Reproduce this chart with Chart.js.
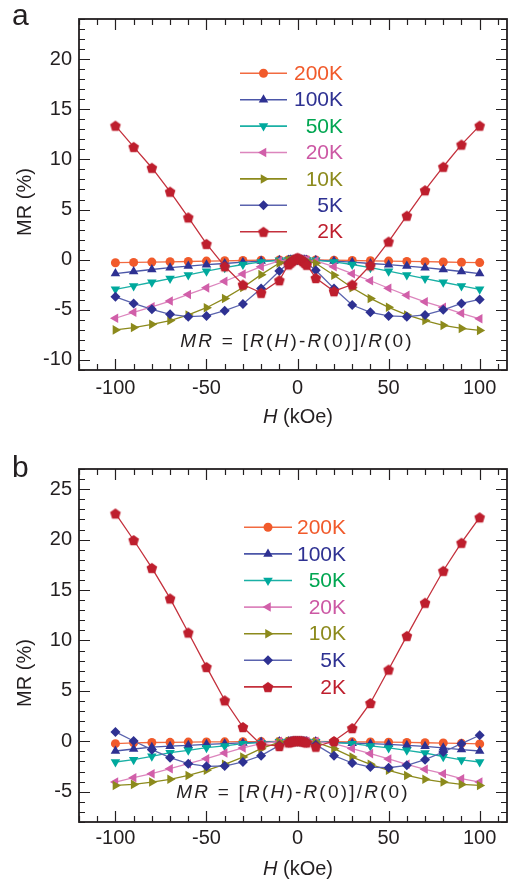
<!DOCTYPE html>
<html>
<head>
<meta charset="utf-8">
<script src="https://cdn.jsdelivr.net/npm/chart.js@4.4.1/dist/chart.umd.min.js"></script>
<style>
  body { margin: 0; background: #fff; }
  .panel { position: absolute; left: 0; }
</style>
</head>
<body>
<div class="panel" style="top:0"><canvas id="chartA" width="515" height="440"></canvas></div>
<div class="panel" style="top:440px"><canvas id="chartB" width="515" height="441"></canvas></div>
<script>
// field values (kOe), shared by every curve
const fieldH = [-100, -90, -80, -70, -60, -50, -40, -30, -20, -10,
  -5, -4, -3, -2, -1, 0, 1, 2, 3, 4, 5,
  10, 20, 30, 40, 50, 60, 70, 80, 90, 100];

const tempLabels = ['200K', '100K', '50K', '20K', '10K', '5K', '2K'];

// labelled tick values
const xTickVals = [-100, -50, 0, 50, 100];
const yTickValsA = [-10, -5, 0, 5, 10, 15, 20];
const yTickValsB = [-5, 0, 5, 10, 15, 20, 25];

// panel a: MR (%)
const mrA200 = [-0.30, -0.27, -0.24, -0.21, -0.18, -0.14, -0.11, -0.08, -0.05, -0.02,
  -0.01, -0.01, 0, 0, 0, 0, 0, 0, 0, -0.01, -0.01,
  -0.02, -0.05, -0.08, -0.11, -0.14, -0.17, -0.20, -0.23, -0.26, -0.29];
const mrA100 = [-1.38, -1.18, -0.98, -0.80, -0.64, -0.50, -0.38, -0.25, -0.14, -0.05,
  -0.02, -0.01, 0, 0, 0, 0, 0, 0, 0, -0.01, -0.02,
  -0.05, -0.14, -0.25, -0.38, -0.50, -0.64, -0.80, -0.98, -1.18, -1.38];
const mrA50 = [-2.95, -2.62, -2.25, -1.88, -1.52, -1.15, -0.80, -0.48, -0.22, -0.06,
  -0.03, -0.02, -0.01, 0, 0, 0, 0, 0, -0.01, -0.02, -0.03,
  -0.06, -0.22, -0.48, -0.80, -1.15, -1.52, -1.88, -2.25, -2.62, -2.95];
const mrA20 = [-5.84, -5.25, -4.70, -4.13, -3.47, -2.81, -2.15, -1.42, -0.70, -0.12,
  -0.06, -0.04, -0.02, -0.01, 0, 0, 0, -0.01, -0.02, -0.04, -0.06,
  -0.12, -0.70, -1.40, -2.10, -2.85, -3.55, -4.20, -4.75, -5.35, -5.90];
const mrA10 = [-7.00, -6.77, -6.45, -6.07, -5.51, -4.79, -3.86, -2.77, -1.49, -0.33,
  -0.12, -0.08, -0.05, -0.02, 0, 0, 0, -0.02, -0.05, -0.08, -0.12,
  -0.36, -1.55, -2.80, -3.86, -4.75, -5.51, -6.07, -6.55, -6.85, -7.05];
const mrA5 = [-3.70, -4.36, -4.95, -5.45, -5.68, -5.61, -5.08, -4.42, -2.87, -1.12,
  -0.35, -0.22, -0.12, -0.05, -0.01, 0, -0.01, -0.05, -0.12, -0.22, -0.35,
  -1.06, -2.87, -4.52, -5.25, -5.61, -5.68, -5.51, -5.00, -4.36, -3.96];
const mrA2 = [13.37, 11.25, 9.17, 6.79, 4.22, 1.58, -0.66, -2.48, -3.30, -2.05,
  -0.47, -0.30, -0.15, 0.00, 0.12, 0.20, 0.12, 0.00, -0.15, -0.30, -0.50,
  -1.82, -3.14, -2.48, -0.56, 1.81, 4.39, 6.93, 9.27, 11.48, 13.37];

// panel b: MR (%)
const mrB200 = [-0.23, -0.15, -0.12, -0.10, -0.08, -0.06, -0.05, -0.04, -0.03, -0.01,
  0, 0, 0, 0, 0, 0, 0, 0, 0, 0, 0,
  -0.01, -0.03, -0.05, -0.07, -0.09, -0.11, -0.14, -0.17, -0.20, -0.26];
const mrB100 = [-0.96, -0.76, -0.58, -0.48, -0.40, -0.30, -0.23, -0.16, -0.08, -0.03,
  -0.01, -0.01, 0, 0, 0, 0, 0, 0, 0, -0.01, -0.01,
  -0.03, -0.10, -0.18, -0.23, -0.30, -0.40, -0.50, -0.65, -0.82, -0.96];
const mrB50 = [-2.05, -1.82, -1.49, -1.13, -0.89, -0.63, -0.46, -0.23, -0.13, -0.04,
  -0.02, -0.01, -0.01, 0, 0, 0, 0, 0, -0.01, -0.01, -0.02,
  -0.04, -0.13, -0.23, -0.46, -0.66, -0.89, -1.16, -1.52, -1.85, -2.05];
const mrB20 = [-4.04, -3.61, -3.21, -2.71, -2.22, -1.72, -1.16, -0.66, -0.23, 0.00,
  0, 0, 0, 0, 0, 0, 0, 0, 0, 0, 0,
  0.00, -0.23, -0.72, -1.22, -1.75, -2.28, -2.78, -3.21, -3.71, -4.04];
const mrB10 = [-4.37, -4.27, -4.04, -3.77, -3.38, -2.88, -2.28, -1.56, -0.73, -0.07,
  -0.03, -0.02, -0.01, 0, 0, 0, 0, 0, -0.01, -0.02, -0.03,
  -0.07, -0.73, -1.56, -2.28, -2.88, -3.38, -3.77, -4.04, -4.27, -4.37];
const mrB5 = [0.93, 0.03, -0.83, -1.62, -2.22, -2.48, -2.45, -2.05, -1.42, -0.40,
  -0.12, -0.08, -0.04, -0.02, 0, 0, 0, -0.02, -0.04, -0.08, -0.12,
  -0.33, -1.42, -2.15, -2.55, -2.62, -2.38, -1.82, -1.06, -0.23, 0.60];
const mrB2 = [22.60, 19.96, 17.20, 14.17, 10.79, 7.38, 4.07, 1.42, -0.33, -0.46,
  -0.10, -0.05, 0, 0.05, 0.05, 0.05, 0.05, 0.05, 0, -0.05, -0.10,
  -0.53, 0.03, 1.32, 3.80, 7.12, 10.46, 13.74, 16.91, 19.69, 22.21];

const ink = '#231f20';
const fontFamily = '"Liberation Sans", Arial, sans-serif';

// small filled pentagon used as the 2K marker
function pentagon(color, r) {
  const c = document.createElement('canvas');
  const s = Math.ceil(r * 2 + 2);
  c.width = s; c.height = s;
  const g = c.getContext('2d');
  g.fillStyle = color;
  g.beginPath();
  for (let k = 0; k < 5; k++) {
    const a = -Math.PI / 2 + k * 2 * Math.PI / 5;
    g.lineTo(s / 2 + r * Math.cos(a), s / 2 + r * Math.sin(a) + 0.6);
  }
  g.closePath();
  g.fill();
  return c;
}

const looks = [
  { marker: '#f15a2b', line: '#f26a40', text: '#f15a2b', style: 'circle', rot: 0, r: 4.5 },
  { marker: '#2e3192', line: '#4b56a8', text: '#2e3192', style: 'triangle', rot: 0, r: 5.5 },
  { marker: '#00a99d', line: '#1ab0a5', text: '#00a651', style: 'triangle', rot: 180, r: 5.5 },
  { marker: '#d15fa9', line: '#dc85bd', text: '#cc58a4', style: 'triangle', rot: 270, r: 5.5 },
  { marker: '#8c8a1c', line: '#8c8a1c', text: '#8c8a1c', style: 'triangle', rot: 90, r: 5.5 },
  { marker: '#2e3192', line: '#5a63ae', text: '#2e3192', style: 'rectRot', rot: 0, r: 5 },
  { marker: '#be1e2d', line: '#c4303c', text: '#be1e2d', style: pentagon('#be1e2d', 5.6), rot: 0, r: 5.5 }
];

function buildDatasets(series) {
  return series.map((vals, i) => ({
    label: tempLabels[i],
    data: fieldH.map((h, j) => ({ x: h, y: vals[j] })),
    borderColor: looks[i].line,
    backgroundColor: looks[i].marker,
    pointBorderColor: looks[i].marker,
    pointBackgroundColor: looks[i].marker,
    pointStyle: looks[i].style,
    rotation: looks[i].rot,
    pointRadius: looks[i].r,
    pointBorderWidth: 0,
    borderWidth: 1.3,
    order: series.length - i
  }));
}

// draws italic/upright runs with a little letter spacing, centred on cx
function drawRuns(ctx, runs, cx, cy, size, spacing) {
  const fontFor = it => (it ? 'italic ' : '') + size + 'px ' + fontFamily;
  let total = 0;
  runs.forEach(([txt, it]) => {
    ctx.font = fontFor(it);
    for (const ch of txt) total += ctx.measureText(ch).width + spacing;
  });
  total -= spacing;
  let x = cx - total / 2;
  ctx.textAlign = 'left';
  ctx.textBaseline = 'middle';
  runs.forEach(([txt, it]) => {
    ctx.font = fontFor(it);
    for (const ch of txt) {
      ctx.fillText(ch, x, cy);
      x += ctx.measureText(ch).width + spacing;
    }
  });
}

const panelDecor = {
  id: 'panelDecor',
  afterDraw(chart, args, o) {
    const { ctx, chartArea: a, scales: { x, y } } = chart;
    ctx.save();
    ctx.strokeStyle = ink;
    ctx.fillStyle = ink;

    // frame with inward ticks on all four sides
    ctx.lineWidth = 1.8;
    ctx.strokeRect(a.left, a.top, a.right - a.left, a.bottom - a.top);
    ctx.lineWidth = 1.2;
    ctx.beginPath();
    for (let v = Math.ceil(x.min / 10) * 10; v <= x.max; v += 10) {
      const px = Math.round(x.getPixelForValue(v)) + 0.5;
      const len = v % 50 === 0 ? 11 : 6;
      ctx.moveTo(px, a.bottom); ctx.lineTo(px, a.bottom - len);
      ctx.moveTo(px, a.top); ctx.lineTo(px, a.top + len);
    }
    for (let v = Math.ceil(y.min); v <= y.max; v++) {
      const py = Math.round(y.getPixelForValue(v)) + 0.5;
      const len = v % 5 === 0 ? 11 : 6;
      ctx.moveTo(a.left, py); ctx.lineTo(a.left + len, py);
      ctx.moveTo(a.right, py); ctx.lineTo(a.right - len, py);
    }
    ctx.stroke();

    // panel letter
    ctx.font = '30px ' + fontFamily;
    ctx.textAlign = 'left';
    ctx.textBaseline = 'alphabetic';
    ctx.fillText(o.letter, 12, o.letterY);

    // y axis title
    ctx.save();
    ctx.translate(25, o.yTitleY);
    ctx.rotate(-Math.PI / 2);
    ctx.font = '20px ' + fontFamily;
    ctx.textAlign = 'center';
    ctx.textBaseline = 'middle';
    ctx.fillText('MR (%)', 0, 0);
    ctx.restore();

    // x axis title
    drawRuns(ctx, [['H', true], [' (kOe)', false]], 298, o.xTitleY, 20, 0);

    // formula inside the plot
    drawRuns(ctx, [['MR', true], [' = [', false], ['R', true], ['(', false], ['H', true],
      [')-', false], ['R', true], ['(0)]/', false], ['R', true], ['(0)', false]],
      o.formulaX, o.formulaY, 19, 2.2);

    // legend: line, marker and right-aligned label per temperature
    const L = o.legend;
    chart.data.datasets.forEach((ds, i) => {
      const ry = L.top + i * L.step;
      ctx.strokeStyle = ds.borderColor;
      ctx.lineWidth = 1.6;
      ctx.beginPath();
      ctx.moveTo(L.x0, ry); ctx.lineTo(L.x1, ry);
      ctx.stroke();
      ctx.fillStyle = ds.pointBackgroundColor;
      ctx.strokeStyle = ds.pointBackgroundColor;
      Chart.helpers.drawPoint(ctx, {
        pointStyle: ds.pointStyle, rotation: ds.rotation,
        radius: ds.pointRadius, borderWidth: 0
      }, (L.x0 + L.x1) / 2, ry);
      ctx.fillStyle = looks[i].text;
      ctx.font = '21px ' + fontFamily;
      ctx.textAlign = 'right';
      ctx.textBaseline = 'middle';
      ctx.fillText(ds.label, L.right, ry + 1);
    });
    ctx.restore();
  }
};

function makeChart(id, series, yMin, yMax, yTicks, padTop, xHeight, tickPad, decor) {
  const tickFont = { family: fontFamily, size: 20 };
  return new Chart(document.getElementById(id), {
    type: 'line',
    data: { datasets: buildDatasets(series) },
    options: {
      responsive: false,
      animation: false,
      layout: { padding: { top: padTop, right: 8, left: 0, bottom: 0 } },
      plugins: { legend: { display: false }, tooltip: { enabled: false }, panelDecor: decor },
      scales: {
        x: {
          type: 'linear', min: -120, max: 115,
          grid: { display: false, drawTicks: false },
          border: { display: false },
          ticks: { padding: tickPad, color: ink, font: tickFont, maxRotation: 0, autoSkip: false },
          afterBuildTicks: s => { s.ticks = xTickVals.map(v => ({ value: v })); },
          afterFit: s => { s.height = xHeight; }
        },
        y: {
          type: 'linear', min: yMin, max: yMax,
          grid: { display: false, drawTicks: false },
          border: { display: false },
          ticks: { padding: 7, color: ink, font: tickFont, autoSkip: false },
          afterBuildTicks: s => { s.ticks = yTicks.map(v => ({ value: v })); },
          afterFit: s => { s.width = 79; }
        }
      }
    },
    plugins: [panelDecor]
  });
}

makeChart('chartA', [mrA200, mrA100, mrA50, mrA20, mrA10, mrA5, mrA2], -11, 24, yTickValsA, 17, 70, 6, {
  letter: 'a', letterY: 25, yTitleY: 202, xTitleY: 417,
  formulaX: 296, formulaY: 342,
  legend: { x0: 240, x1: 287, right: 343, top: 73.3, step: 26.4 }
});

makeChart('chartB', [mrB200, mrB100, mrB50, mrB20, mrB10, mrB5, mrB2], -8, 27, yTickValsB, 29, 59, 4, {
  letter: 'b', letterY: 37, yTitleY: 233, xTitleY: 429,
  formulaX: 292, formulaY: 353,
  legend: { x0: 244, x1: 292, right: 346, top: 87.3, step: 26.6 }
});
</script>
</body>
</html>
